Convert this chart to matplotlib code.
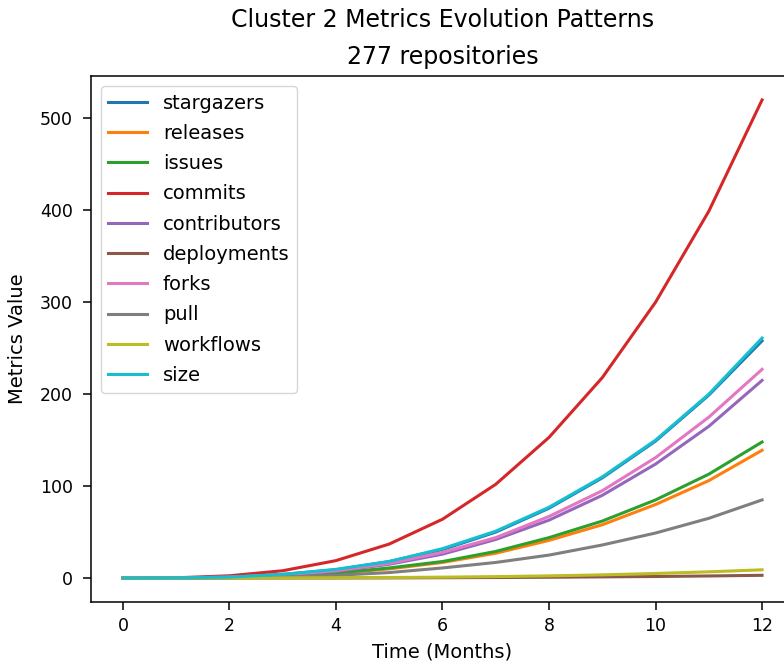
import matplotlib
matplotlib.use("Agg")
import matplotlib.pyplot as plt

months = list(range(13))

stargazers   = [0, 0.2, 1, 4, 9, 18, 31, 50, 76, 109, 149, 199, 258]
releases     = [0, 0.1, 0.6, 2, 5, 10, 17, 27, 41, 58, 80, 106, 139]
issues       = [0, 0.1, 0.7, 2.3, 5.5, 11, 18, 29, 44, 62, 85, 113, 148]
commits      = [0, 0.3, 2.5, 8, 19, 37, 64, 102, 153, 218, 300, 399, 520]
contributors = [0, 0.1, 1, 3.3, 7.5, 15, 26, 42, 63, 90, 124, 165, 215]
deployments  = [0, 0, 0, 0.1, 0.1, 0.2, 0.4, 0.6, 0.9, 1.3, 1.7, 2.3, 3]
forks        = [0, 0.1, 1, 3.5, 8, 16, 28, 44, 67, 95, 131, 175, 227]
pull         = [0, 0.1, 0.4, 1.3, 3, 6, 11, 17, 25, 36, 49, 65, 85]
workflows    = [0, 0, 0.1, 0.2, 0.4, 0.6, 1, 1.6, 2.4, 3.5, 5, 6.8, 9]
size         = [0, 0.2, 1.1, 4, 9.5, 18, 32, 51, 77, 110, 150, 200, 261]

series = [
    ("stargazers", stargazers),
    ("releases", releases),
    ("issues", issues),
    ("commits", commits),
    ("contributors", contributors),
    ("deployments", deployments),
    ("forks", forks),
    ("pull", pull),
    ("workflows", workflows),
    ("size", size),
]

fig, ax = plt.subplots(figsize=(7.84, 6.64), dpi=100)
for name, vals in series:
    ax.plot(months, vals, label=name, linewidth=2.2)

ax.set_title("Cluster 2 Metrics Evolution Patterns\n277 repositories",
             fontsize=17, linespacing=1.65, pad=9)
ax.set_xlabel("Time (Months)", fontsize=14, labelpad=5)
ax.set_ylabel("Metrics Value", fontsize=14, labelpad=9)
ax.tick_params(axis="y", labelsize=12.5, length=6, width=1.1, pad=7)
ax.tick_params(axis="x", labelsize=12.5, length=6, width=1.1, pad=5)
for s in ax.spines.values():
    s.set_linewidth(1.1)
ax.legend(loc="upper left", fontsize=14, labelspacing=0.58)

fig.subplots_adjust(left=0.116, right=1.0128, top=0.8855, bottom=0.0934)
fig.savefig("out.png", dpi=100)
